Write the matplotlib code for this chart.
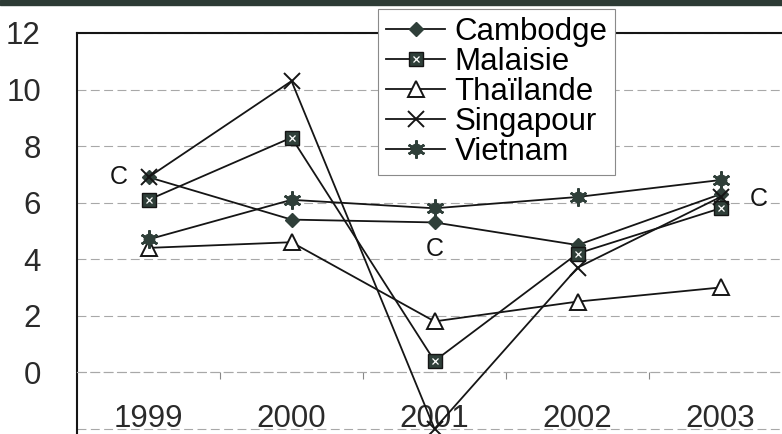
import matplotlib
matplotlib.use("Agg")
import matplotlib.pyplot as plt
import numpy as np
from matplotlib.legend_handler import HandlerTuple
from matplotlib.patches import Rectangle

plt.rcParams["font.family"] = ["Liberation Sans", "DejaVu Sans"]

years = ["1999", "2000", "2001", "2002", "2003"]
cambodge = [6.9, 5.4, 5.3, 4.5, 6.3]
malaisie = [6.1, 8.3, 0.4, 4.2, 5.8]
thailande = [4.4, 4.6, 1.8, 2.5, 3.0]
singapour = [6.9, 10.3, -2.0, 3.7, 6.2]
vietnam = [4.7, 6.1, 5.8, 6.2, 6.8]
cambodge_labels = ["C", "", "C", "", "C"]
y_ticks = [-2, 0, 2, 4, 6, 8, 10, 12]
y_labels = ["", "0", "2", "4", "6", "8", "10", "12"]

ink = "#151515"
fill = "#2f3f39"
text_col = "#2a2a2a"

fig = plt.figure(figsize=(7.82, 4.34), dpi=100)
ax = fig.add_axes([0.0985, -0.0207, 0.9143, 0.9447])
x = np.arange(1, len(years) + 1)

line_kw = dict(color=ink, lw=1.3, zorder=3)
h_cam, = ax.plot(x, cambodge, marker="D", ms=7.5, mfc=fill, mec=fill, **line_kw)
h_mal, = ax.plot(x, malaisie, marker="s", ms=9.5, mfc=fill, mec=ink, **line_kw)
h_mal2, = ax.plot(x, malaisie, ls="none", marker="x", ms=4, mec="white", mew=0.9, zorder=4)
h_tha, = ax.plot(x, thailande, marker="^", ms=11, mfc="white", mec=ink, mew=1.4, **line_kw)
h_sin, = ax.plot(x, singapour, marker="x", ms=12, mec=ink, mew=1.4, **line_kw)
h_vie, = ax.plot(x, vietnam, marker=(6, 2, 0), ms=13, mec=fill, mew=1.8, **line_kw)
h_vie2, = ax.plot(x, vietnam, ls="none", marker="o", ms=7.5, mfc=fill, mec=fill, zorder=4)

# "C" data labels on the Cambodge series (pixel offsets from each point)
offsets = [(-30, 0), (0, 0), (0, -27), (0, 0), (38, -5)]
for xi, yi, lab, off in zip(x, cambodge, cambodge_labels, offsets):
    if lab:
        ax.annotate(lab, (xi, yi), xytext=off, textcoords="offset pixels",
                    ha="center", va="center", fontsize=18, color=ink, zorder=5)

ax.set_xlim(0.5, len(years) + 0.5)
ax.set_ylim(-2.5, 12)
ax.set_yticks(y_ticks)
ax.set_yticklabels(y_labels)
ax.set_xticks(x)
ax.set_xticklabels(years)
ax.set_xticks(x[:-1] + 0.5, minor=True)

ax.tick_params(axis="y", length=0, pad=26, labelsize=22.5, labelcolor=text_col)
ax.tick_params(axis="x", which="major", length=0, pad=23, labelsize=22.5, labelcolor=text_col)
ax.tick_params(axis="x", which="minor", length=5, width=0.8, color="#888888", direction="out")

ax.grid(axis="y", color="#a8a8a8", lw=0.8, ls=(0, (8, 4)))
ax.set_axisbelow(True)

ax.spines["right"].set_visible(False)
for side in ("top", "left"):
    ax.spines[side].set_linewidth(1.5)
    ax.spines[side].set_color(ink)
ax.spines["bottom"].set_position(("data", 0))
ax.spines["bottom"].set_color("#a8a8a8")
ax.spines["bottom"].set_linewidth(0.8)
ax.spines["bottom"].set_linestyle((0, (8, 4)))

leg = ax.legend(
    [h_cam, (h_mal, h_mal2), h_tha, h_sin, (h_vie, h_vie2)],
    ["Cambodge", "Malaisie", "Thaïlande", "Singapour", "Vietnam"],
    handler_map={tuple: HandlerTuple(ndivide=1)},
    loc="lower left", bbox_to_anchor=(378 / 782, 1 - 175 / 434),
    bbox_transform=fig.transFigure, borderaxespad=0,
    fontsize=22.5, labelspacing=0.0, handlelength=1.9, handletextpad=0.3,
    borderpad=0.25, fancybox=False, framealpha=1, edgecolor="#8a8a8a",
)
leg.get_frame().set_linewidth(0.8)
leg.set_zorder(10)

# dark strip along the top edge
fig.add_artist(Rectangle((0, 1 - 5 / 434), 1, 5 / 434, transform=fig.transFigure,
                         color="#2d3b35", zorder=20))

fig.savefig("out.png", dpi=100, facecolor="white")
